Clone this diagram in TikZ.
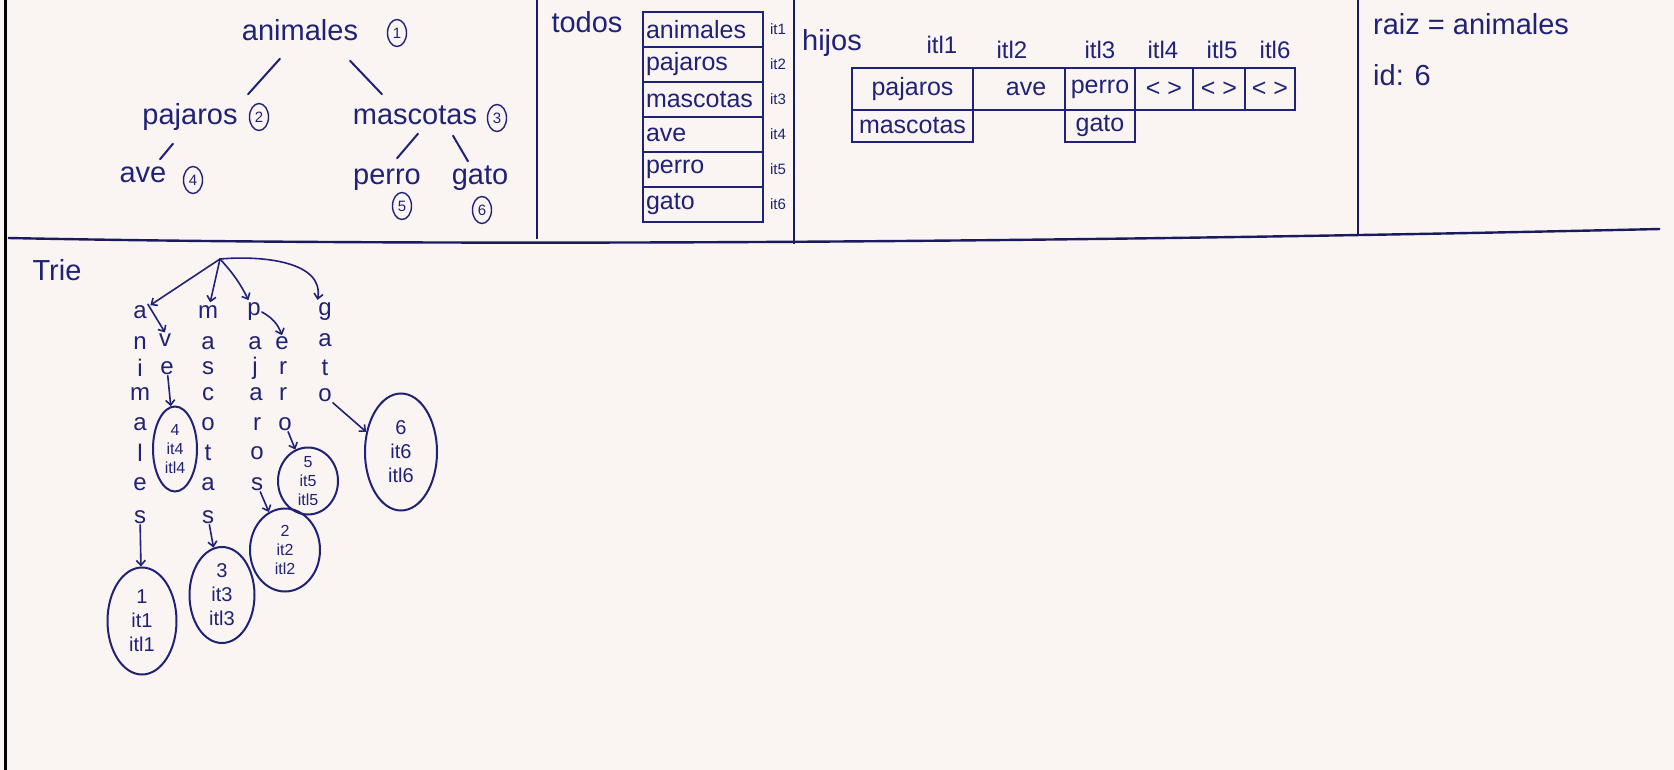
\documentclass[tikz,border=0pt]{standalone}
\usepackage{fontspec}
\setmainfont{Liberation Sans}
\usetikzlibrary{arrows.meta,calc,shapes.geometric}
\definecolor{ink}{RGB}{32,34,118}
\definecolor{paper}{RGB}{250,245,243}
\begin{document}
\begin{tikzpicture}[x=1pt,y=-1pt,
  tw/.style={text=ink, font=\fontsize{29}{34}\selectfont, inner sep=0pt, text height=21pt, text depth=6pt},
  cnum/.style={ellipse, draw=ink, line width=1.4pt, text=ink, inner sep=0pt, minimum width=19pt, minimum height=27pt, font=\fontsize{15}{16}\selectfont},
  cell/.style={rectangle, draw=ink, line width=2pt, text=ink, inner sep=0pt, font=\fontsize{25}{30}\selectfont},
  tcell/.style={cell, inner xsep=3pt, text width=114pt, align=left, minimum height=35pt},
  lab/.style={text=ink, inner sep=0pt, font=\fontsize{15}{16}\selectfont},
  hlab/.style={text=ink, inner sep=0pt, font=\fontsize{24}{26}\selectfont},
  ltr/.style={text=ink, inner sep=1pt, font=\fontsize{24}{24}\selectfont},
  ell/.style={ellipse, draw=ink, line width=2pt, text=ink, inner sep=-4pt, align=center, font=\fontsize{20}{24}\selectfont},
  smallell/.style={ell, font=\fontsize{16}{19}\selectfont},
  edge/.style={draw=ink, line width=2pt, line cap=round},
  arr/.style={draw=ink, line width=1.6pt, line cap=round, -{Straight Barb[length=5pt,width=9pt]}},
  divline/.style={draw=ink!80!black, line width=2.4pt}]
\useasboundingbox (0,0) rectangle (1674,770);
\fill[paper] (0,0) rectangle (1674,770);
\draw[black, line width=3pt] (5,0) -- (5,770);

% dividers
\draw[divline] (8,238) .. controls (400,246) and (1000,244) .. (1660,229);
\draw[divline] (537,0) -- (537,239);
\draw[divline] (794,0) -- (794,244);
\draw[divline] (1358,0) -- (1358,236);

% ---------- tree ----------
\node[tw] (animales) at (300,33) {animales};
\node[cnum] (n1) at (397,33) {1};
\node[tw] (pajaros) at (190,117) {pajaros};
\node[cnum] (n2) at (259,117) {2};
\node[tw] (mascotas) at (415,117) {mascotas};
\node[cnum] (n3) at (497,118) {3};
\node[tw] (ave) at (143,175) {ave};
\node[cnum] (n4) at (193,180) {4};
\node[tw] (perro) at (387,177) {perro};
\node[cnum] (n5) at (402,206) {5};
\node[tw] (gato) at (480,177) {gato};
\node[cnum] (n6) at (482,210) {6};
\draw[edge] ($(animales.south)+(-20,12)$) -- ($(pajaros.north)+(58,-9)$);
\draw[edge] ($(animales.south)+(50,14)$) -- ($(mascotas.north)+(-33,-9)$);
\draw[edge] ($(pajaros.south)+(-17,13)$) -- ($(ave.north)+(17,-2)$);
\draw[edge] ($(mascotas.south)+(3,3)$) -- ($(perro.north)+(10,-5)$);
\draw[edge] ($(mascotas.south)+(38,5)$) -- ($(gato.north)+(-12,-2)$);

% ---------- todos ----------
\node[tw] (todos) at (587,25) {todos};
\node[tcell] (t1) at (703,29.5) {animales};
\node[tcell] (t2) at (703,64.5) {pajaros};
\node[tcell] (t3) at (703,99.5) {mascotas};
\node[tcell] (t4) at (703,134.5) {ave};
\node[tcell] (t5) at (703,169.5) {perro};
\node[tcell] (t6) at (703,204.5) {gato};
\node[lab] (i1) at (778,29.5) {it1};
\node[lab] (i2) at (778,64.5) {it2};
\node[lab] (i3) at (778,99.5) {it3};
\node[lab] (i4) at (778,134.5) {it4};
\node[lab] (i5) at (778,169.5) {it5};
\node[lab] (i6) at (778,204.5) {it6};

% ---------- hijos ----------
\node[tw] (hijos) at (832,43) {hijos};
\node[hlab] (l1) at (942,45) {itl1};
\node[hlab] (l2) at (1012,50) {itl2};
\node[hlab] (l3) at (1100,50) {itl3};
\node[hlab] (l4) at (1163,50) {itl4};
\node[hlab] (l5) at (1222,50) {itl5};
\node[hlab] (l6) at (1275,50) {itl6};
\node[cell, minimum width=121pt, minimum height=42pt] (h11) at (912.5,89) {pajaros};
\node[cell, minimum width=121pt, minimum height=32pt] (h12) at (912.5,126) {mascotas};
\node[cell, minimum width=92pt, minimum height=42pt] (h21) at (1019,89) {\hspace{14pt}ave};
\node[cell, minimum width=70pt, minimum height=42pt] (h31) at (1100,89) {perro};
\node[cell, minimum width=70pt, minimum height=32pt] (h32) at (1100,126) {gato};
\node[cell, minimum width=58pt, minimum height=42pt] (h41) at (1164,89) {< >};
\node[cell, minimum width=52pt, minimum height=42pt] (h51) at (1219,89) {< >};
\node[cell, minimum width=50pt, minimum height=42pt] (h61) at (1270,89) {< >};

% ---------- raiz ----------
\node[tw, anchor=west] (raiz) at (1373,27) {raiz = animales};
\node[tw, anchor=west] (id) at (1373,78) {id: 6};

% ---------- trie ----------
\node[tw] (trie) at (57,273) {Trie};
\coordinate (root) at (220,259);
% column animales
\node[ltr] (a1) at (140,312) {a};
\node[ltr] (a2) at (140,343) {n};
\node[ltr] (a3) at (140,368) {i};
\node[ltr] (a4) at (140,394) {m};
\node[ltr] (a5) at (140,424) {a};
\node[ltr] (a6) at (140,453) {l};
\node[ltr] (a7) at (140,484) {e};
\node[ltr] (a8) at (140,517) {s};
% column ave
\node[ltr] (v1) at (165,340) {v};
\node[ltr] (v2) at (167,368) {e};
% column mascotas
\node[ltr] (m1) at (208,312) {m};
\node[ltr] (m2) at (208,343) {a};
\node[ltr] (m3) at (208,368) {s};
\node[ltr] (m4) at (208,394) {c};
\node[ltr] (m5) at (208,424) {o};
\node[ltr] (m6) at (208,453) {t};
\node[ltr] (m7) at (208,484) {a};
\node[ltr] (m8) at (208,517) {s};
% column pajaros
\node[ltr] (p1) at (254,312) {p};
\node[ltr] (p2) at (255,343) {a};
\node[ltr] (p3) at (255,368) {j};
\node[ltr] (p4) at (256,394) {a};
\node[ltr] (p5) at (257,424) {r};
\node[ltr] (p6) at (257,453) {o};
\node[ltr] (p7) at (257,484) {s};
% column perro
\node[ltr] (e1) at (282,343) {e};
\node[ltr] (e2) at (283,368) {r};
\node[ltr] (e3) at (283,394) {r};
\node[ltr] (e4) at (285,424) {o};
% column gato
\node[ltr] (g1) at (325,312) {g};
\node[ltr] (g2) at (325,340) {a};
\node[ltr] (g3) at (325,368) {t};
\node[ltr] (g4) at (325,395) {o};
% leaf ellipses
\node[ell, minimum width=69pt, minimum height=107pt] (E1) at (142,621) {1\\it1\\itl1};
\node[smallell, minimum width=44pt, minimum height=85pt] (E4) at (175,449) {4\\it4\\itl4};
\node[ell, minimum width=65pt, minimum height=96pt] (E3) at (222,595) {3\\it3\\itl3};
\node[smallell, minimum width=70pt, minimum height=83pt] (E2) at (285,550) {2\\it2\\itl2};
\node[smallell, minimum width=60pt, minimum height=67pt] (E5) at (308,481) {5\\it5\\itl5};
\node[ell, minimum width=72pt, minimum height=117pt] (E6) at (401,452) {6\\it6\\itl6};
% arrows
\draw[arr, shorten >=3pt] (root) -- (a1);
\draw[arr, shorten >=2pt] (root) -- (m1);
\draw[arr, shorten >=2pt] (root) to[bend left=8] (p1);
\draw[arr, shorten >=2pt] (root) to[out=5, in=80] (g1.north west);
\draw[arr] (a1.north east) -- (v1.north);
\draw[arr] (p1.east) to[bend left=20] (e1.north);
\draw[arr] (a8) -- (E1);
\draw[arr] (v2) -- (E4);
\draw[arr] (m8) -- (E3);
\draw[arr] (p7) -- (E2);
\draw[arr] (e4) -- (E5);
\draw[arr] (g4.south east) -- (E6.150);
\end{tikzpicture}
\end{document}
